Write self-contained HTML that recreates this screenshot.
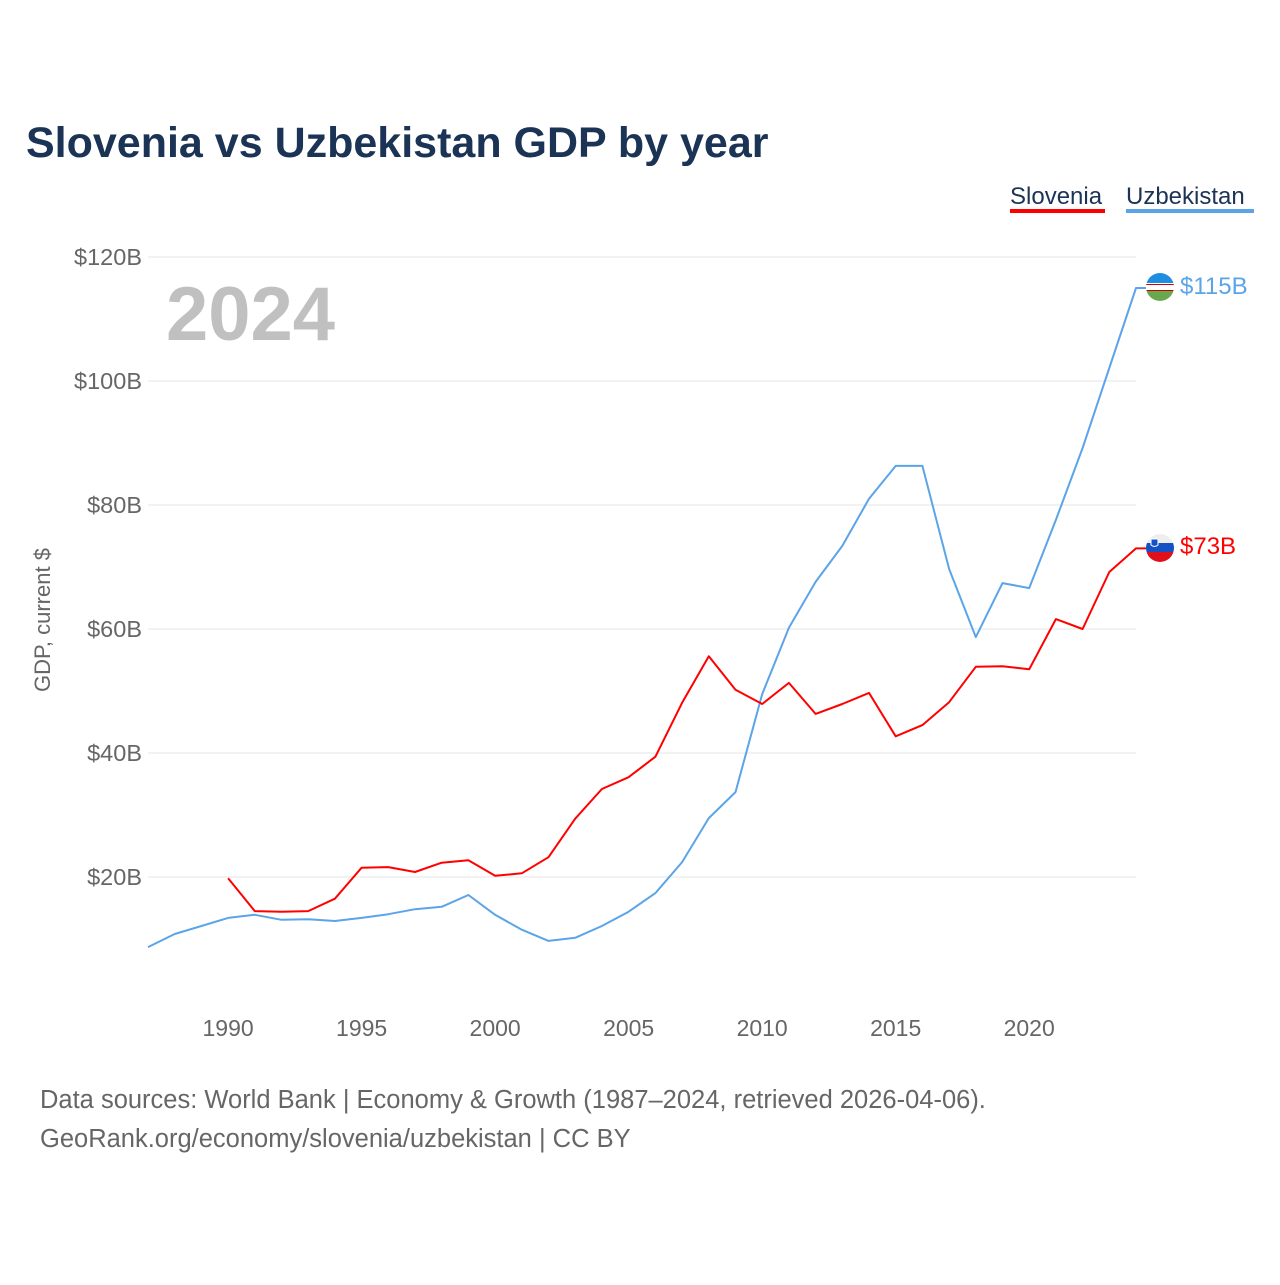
<!DOCTYPE html>
<html><head><meta charset="utf-8"><style>
body{margin:0;background:#fff;font-family:"Liberation Sans",sans-serif}
</style></head><body>
<svg id="c" width="1280" height="1280" viewBox="0 0 1280 1280" style="font-family:'Liberation Sans',sans-serif">
<text x="26" y="157" font-size="43" font-weight="bold" fill="#1b3354">Slovenia vs Uzbekistan GDP by year</text>
<g>
<text x="1010" y="204" font-size="24" fill="#1b3354">Slovenia</text>
<rect x="1010" y="209" width="95" height="4" fill="#ff0000"/>
<text x="1126" y="204" font-size="24" fill="#1b3354">Uzbekistan</text>
<rect x="1126" y="209" width="128" height="4" fill="#5ba4e8"/>
</g>
<text x="166" y="340" font-size="76" font-weight="bold" fill="#c0c0c0">2024</text>
<g id="grid"></g><g id="yt"></g><g id="xt"></g>
<text transform="translate(50,620) rotate(-90)" text-anchor="middle" font-size="22" fill="#666">GDP, current $</text>
<g id="lines"></g>
<g>
<clipPath id="cu"><circle cx="1160" cy="287" r="14"/></clipPath>
<g clip-path="url(#cu)"><rect x="1146" y="273" width="28" height="10" fill="#1e8ee0"/><rect x="1146" y="283" width="28" height="8" fill="#fff"/><rect x="1146" y="284" width="28" height="1" fill="#c00"/><rect x="1146" y="290" width="28" height="1" fill="#c00"/><rect x="1146" y="291" width="28" height="10" fill="#6aa84f"/></g></g>
<g>
<clipPath id="cs"><circle cx="1160" cy="548" r="14"/></clipPath>
<g clip-path="url(#cs)"><rect x="1146" y="534" width="28" height="9" fill="#eee"/><rect x="1146" y="543" width="28" height="9" fill="#1451c4"/><rect x="1146" y="552" width="28" height="10" fill="#e0101a"/><path d="M1151 539h7v6q-3.5 3-7 0z" fill="#1451c4" stroke="#fff" stroke-width="1"/></g></g>
<text x="1180" y="294" font-size="24" fill="#5ba4e8">$115B</text>
<text x="1180" y="554" font-size="24" fill="#ff0000">$73B</text>
<text x="40" y="1108" font-size="25.5" fill="#666">Data sources: World Bank | Economy &amp; Growth (1987–2024, retrieved 2026-04-06).</text>
<text x="40" y="1147" font-size="25.5" fill="#666">GeoRank.org/economy/slovenia/uzbekistan | CC BY</text>
</svg>
<script>
const uzYears=[1987,1988,1989,1990,1991,1992,1993,1994,1995,1996,1997,1998,1999,2000,2001,2002,2003,2004,2005,2006,2007,2008,2009,2010,2011,2012,2013,2014,2015,2016,2017,2018,2019,2020,2021,2022,2023,2024];
const uzValues=[8.7,10.8,12.1,13.4,13.9,13.1,13.2,12.9,13.4,14.0,14.8,15.2,17.1,13.9,11.5,9.7,10.2,12.1,14.4,17.4,22.4,29.5,33.7,49.5,60.2,67.6,73.4,81,86.3,86.3,69.7,58.7,67.4,66.6,77.6,89.2,102.1,115];
const siYears=[1990,1991,1992,1993,1994,1995,1996,1997,1998,1999,2000,2001,2002,2003,2004,2005,2006,2007,2008,2009,2010,2011,2012,2013,2014,2015,2016,2017,2018,2019,2020,2021,2022,2023,2024];
const siValues=[19.8,14.5,14.4,14.5,16.5,21.5,21.6,20.8,22.3,22.7,20.2,20.6,23.2,29.4,34.2,36.1,39.4,48.1,55.6,50.2,47.9,51.3,46.3,47.9,49.7,42.7,44.5,48.2,53.9,54.0,53.5,61.6,60.0,69.2,73];
const yTicks=[20,40,60,80,100,120];
const yTickLabels=["$20B","$40B","$60B","$80B","$100B","$120B"];
const xTicks=[1990,1995,2000,2005,2010,2015,2020];
const NS="http://www.w3.org/2000/svg";
const x=yr=>148+(yr-1987)*(1136-148)/37;
const y=v=>1001-v*6.2;
function mk(t,a,p){const e=document.createElementNS(NS,t);for(const k in a)e.setAttribute(k,a[k]);p.appendChild(e);return e;}
const grid=document.getElementById('grid'),yt=document.getElementById('yt'),xt=document.getElementById('xt'),lines=document.getElementById('lines');
yTicks.forEach((v,i)=>{
 const l=mk('line',{x1:148,x2:1136,y1:y(v),y2:y(v),stroke:'#e6e6e6','stroke-width':1},grid);
 
 
 const t=mk('text',{x:142,y:y(v)+8,'text-anchor':'end','font-size':23.5,fill:'#666'},yt);
 t.textContent=yTickLabels[i];
 
 
});
xTicks.forEach(v=>{
 const t=mk('text',{x:x(v),y:1036,'text-anchor':'middle','font-size':23,fill:'#666'},xt);
 t.textContent=v;
 
 
});
function line(ys,vs,col,name){
 let d=ys.map((yr,i)=>(i?'L':'M')+x(yr).toFixed(1)+' '+y(vs[i]).toFixed(1)).join(' ');
 d+=' L'+(x(ys[ys.length-1])+10)+' '+y(vs[vs.length-1]).toFixed(1);
 const p=mk('path',{d:d,fill:'none',stroke:col,'stroke-width':2,'stroke-linejoin':'round'},lines);
 
 
}
line(uzYears,uzValues,'#5ba4e8','uzbekistan-line');
line(siYears,siValues,'#ff0000','slovenia-line');
</script>
</body></html>
